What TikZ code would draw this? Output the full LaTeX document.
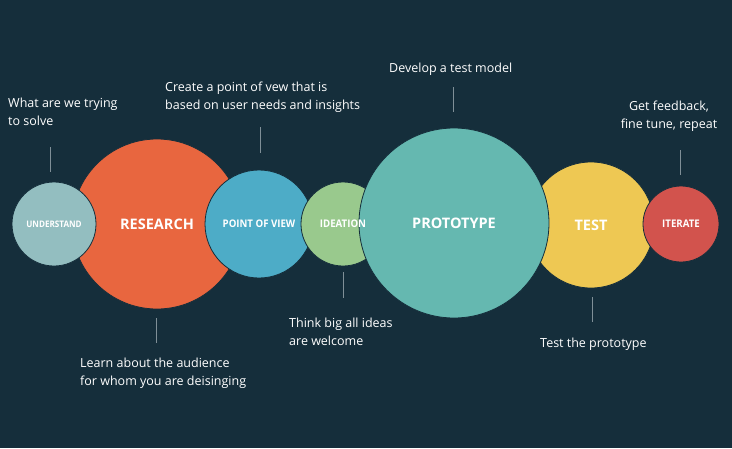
\documentclass[tikz,border=0pt]{standalone}
\usepackage{fontspec}
\setmainfont{Open Sans}
\usetikzlibrary{positioning}
\definecolor{bgdark}{HTML}{152E3B}
\definecolor{cunder}{HTML}{93BEC0}
\definecolor{cres}{HTML}{E8663F}
\definecolor{cpov}{HTML}{4DACC7}
\definecolor{cidea}{HTML}{99C98D}
\definecolor{cproto}{HTML}{65B8B0}
\definecolor{ctest}{HTML}{EEC853}
\definecolor{citer}{HTML}{D2534D}
\definecolor{tickgray}{HTML}{7F8F97}
\tikzset{
  stage/.style={circle, draw=bgdark, line width=0.8pt, inner sep=0pt},
  stagetext/.style={text=white, inner sep=0pt, font=\bfseries\fontsize{#1}{14}\selectfont},
  tick/.style={draw=tickgray, line width=0.8pt},
  note/.style={text=white, font=\fontsize{12.5}{18}\selectfont, align=left, inner sep=0pt, anchor=north west}
}
\begin{document}
\begin{tikzpicture}[x=1pt, y=-1pt]
\fill[bgdark] (0,0) rectangle (732,448);
\useasboundingbox (0,0) rectangle (732,448);

% circles
\node[stage, fill=cres, minimum size=170pt] (res) at (157,224) {};
\node[stage, fill=cunder, minimum size=84pt] (und) at (54,224) {};
\node[stage, fill=cpov, minimum size=108pt] (pov) at (259,224) {};
\node[stage, fill=cidea, minimum size=84pt] (idea) at (343,224) {};
\node[stage, fill=ctest, minimum size=126pt] (test) at (591,225) {};
\node[stage, fill=cproto, minimum size=190pt] (proto) at (454,223) {};
\node[stage, fill=citer, minimum size=76pt] (iter) at (681,224) {};

% labels on top
\node[stagetext=9, xscale=0.9] (undl) at (und) {UNDERSTAND};
\node[stagetext=14.5] (resl) at (res) {RESEARCH};
\node[stagetext=10.5, xscale=0.92] (povl) at (pov) {POINT OF VIEW};
\node[stagetext=10.5, xscale=0.92] (ideal) at (idea) {IDEATION};
\node[stagetext=14.5] (protol) at (proto) {PROTOTYPE};
\node[stagetext=14.5] (testl) at (test) {TEST};
\node[stagetext=10.5, xscale=0.92] (iterl) at (iter) {ITERATE};

% ticks
\coordinate (t1a) at (50,147);  \coordinate (t1b) at (50,172);
\coordinate (t2a) at (260,127); \coordinate (t2b) at (260,153);
\coordinate (t3a) at (453,87);  \coordinate (t3b) at (453,112);
\coordinate (t4a) at (680,150); \coordinate (t4b) at (680,175);
\coordinate (t5a) at (156,318); \coordinate (t5b) at (156,343);
\coordinate (t6a) at (343,272); \coordinate (t6b) at (343,298);
\coordinate (t7a) at (592,297); \coordinate (t7b) at (592,322);
\foreach \i in {1,...,7} \draw[tick] (t\i a) -- (t\i b);

% notes
\node[note] (n1) at (8,98) {What are we trying\\to solve};
\node[note] (n2) at (165,82) {Create a point of vew that is\\based on user needs and insights};
\node[note] (n3) at (389,63) {Develop a test model};
\node[note, align=center, anchor=north] (n4) at (669,101) {Get feedback,\\fine tune, repeat};
\node[note] (n5) at (80,358) {Learn about the audience\\for whom you are deisinging};
\node[note] (n6) at (289,318) {Think big all ideas\\are welcome};
\node[note] (n7) at (540,338) {Test the prototype};
\end{tikzpicture}
\end{document}
